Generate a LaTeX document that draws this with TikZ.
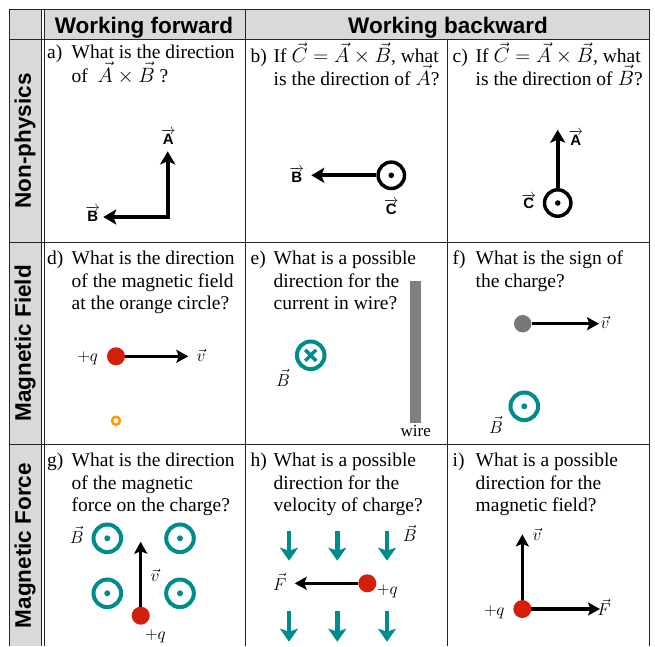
\documentclass[tikz,border=0pt]{standalone}
\usepackage{fontspec}
\setmainfont{Liberation Serif}
\setsansfont{Liberation Sans}
\usetikzlibrary{arrows.meta}
\definecolor{tealc}{RGB}{0,140,140}
\definecolor{redc}{RGB}{210,30,10}
\definecolor{hdrgray}{RGB}{217,217,217}
\definecolor{orangec}{RGB}{255,153,0}
\definecolor{wiregray}{RGB}{128,128,128}
\definecolor{dotgray}{RGB}{120,120,120}
\tikzset{
 qtext/.style={anchor=base west, inner sep=0pt, font=\fontsize{19.5}{22.8}\selectfont},
 hdr/.style={font=\sffamily\bfseries\fontsize{22.5}{26}\selectfont, inner sep=0pt},
 blab/.style={anchor=base, inner sep=0pt, font=\fontsize{15}{17}\selectfont},
 plab/.style={anchor=base, inner sep=0pt, font=\fontsize{17}{20}\selectfont},
 gridline/.style={line width=0.9pt, draw=black!85},
 bigarr/.style={line width=3.8pt, -{Stealth[length=13pt,width=15pt,inset=3pt]}},
 arr/.style={line width=3.5pt, -{Stealth[length=12pt,width=13pt,inset=2.5pt]}},
 tarr/.style={line width=4.5pt, draw=tealc, -{Stealth[length=13pt,width=18pt,inset=3pt]}},
 odot/.style={circle, draw, line width=3.5pt, minimum size=26.4pt, inner sep=0pt},
 todot/.style={circle, draw=tealc, line width=4pt, minimum size=27.6pt, inner sep=0pt},
 charge/.style={circle, fill=redc, minimum size=18pt, inner sep=0pt},
}
\newcommand\bvec[1]{$\overrightarrow{\mbox{\sffamily\bfseries #1}}$}
\begin{document}
\begin{tikzpicture}[x=1pt,y=-1pt]
\useasboundingbox (0,0) rectangle (655,646);
% backgrounds
\fill[hdrgray] (9,9) rectangle (41,646);
\fill[hdrgray] (44,9) rectangle (649,39.5);
% grid
\draw[gridline] (9,9) -- (649,9);
\draw[gridline] (9,39.5) -- (649,39.5);
\draw[gridline] (9,242) -- (649,242);
\draw[gridline] (9,444.5) -- (649,444.5);
\draw[gridline] (9,9) -- (9,646);
\draw[gridline] (41,9) -- (41,646);
\draw[gridline] (44,9) -- (44,646);
\draw[gridline] (245,9) -- (245,646);
\draw[gridline] (447,39.5) -- (447,646);
\draw[gridline] (649,9) -- (649,646);
% headers
\node[hdr, anchor=base] (h1) at (144,33) {Working forward};
\node[hdr, anchor=base] (h2) at (448,33) {Working backward};
\node[hdr, rotate=90] (r1) at (25,140.75) {Non-physics};
\node[hdr, rotate=90] (r2) at (25,343.25) {Magnetic Field};
\node[hdr, rotate=90] (r3) at (25,545.5) {Magnetic Force};
% row 1 texts
\node[qtext] (la) at (47,58.7) {a)};
\node[qtext] (a1) at (71.5,58.7) {What is the direction};
\node[qtext] (a2) at (71.5,82) {of \ $\vec{A}\times\vec{B}$ ?};
\node[qtext] (lb) at (250.5,62.5) {b)};
\node[qtext] (b1) at (273.5,62.5) {If $\vec{C}=\vec{A}\times\vec{B}$, what};
\node[qtext] (b2) at (273.5,85) {is the direction of $\vec{A}$?};
\node[qtext] (lc) at (452.5,62.5) {c)};
\node[qtext] (c1) at (475.5,62.5) {If $\vec{C}=\vec{A}\times\vec{B}$, what};
\node[qtext] (c2) at (475.5,85) {is the direction of $\vec{B}$?};
% row 2 texts
\node[qtext] (ld) at (47,264.7) {d)};
\node[qtext] (d1) at (71.5,264.7) {What is the direction};
\node[qtext] (d2) at (71.5,287.3) {of the magnetic field};
\node[qtext] (d3) at (71.5,309.7) {at the orange circle?};
\node[qtext] (le) at (250.5,264.7) {e)};
\node[qtext] (e1) at (273.5,264.7) {What is a possible};
\node[qtext] (e2) at (273.5,287.3) {direction for the};
\node[qtext] (e3) at (273.5,309.7) {current in wire?};
\node[qtext] (lf) at (452.5,264.7) {f)};
\node[qtext] (f1) at (475.5,264.7) {What is the sign of};
\node[qtext] (f2) at (475.5,287.3) {the charge?};
% row 3 texts
\node[qtext] (lg) at (47,466.7) {g)};
\node[qtext] (g1) at (71.5,466.7) {What is the direction};
\node[qtext] (g2) at (71.5,489.2) {of the magnetic};
\node[qtext] (g3) at (71.5,511.7) {force on the charge?};
\node[qtext] (lh) at (250.5,466.7) {h)};
\node[qtext] (h1t) at (273.5,466.7) {What is a possible};
\node[qtext] (h2t) at (273.5,489.2) {direction for the};
\node[qtext] (h3t) at (273.5,511.7) {velocity of charge?};
\node[qtext] (li) at (452.5,466.7) {i)};
\node[qtext] (i1) at (475.5,466.7) {What is a possible};
\node[qtext] (i2) at (475.5,489.2) {direction for the};
\node[qtext] (i3) at (475.5,511.7) {magnetic field?};
% cell a
\coordinate (acorner) at (167.7,217);
\coordinate (atipA) at (167.7,151.3);
\coordinate (atipB) at (103.3,217);
\draw[line width=3.8pt, {Stealth[length=13pt,width=15pt,inset=3pt]}-{Stealth[length=13pt,width=15pt,inset=3pt]}] (atipB) -- (acorner) -- (atipA);
\node[blab] (aA) at (168.3,144) {\bvec{A}};
\node[blab] (aB) at (92.7,221.3) {\bvec{B}};
% cell b
\node[odot] (bC) at (391.3,175.3) {};
\fill (bC.center) circle[radius=2.8pt];
\coordinate (btip) at (311.3,175.3);
\draw[bigarr] (bC) -- (btip);
\node[blab] (bB) at (296.7,182) {\bvec{B}};
\node[blab] (bCl) at (391.3,214) {\bvec{C}};
% cell c
\node[odot] (cC) at (557.7,203) {};
\fill (cC.center) circle[radius=2.8pt];
\coordinate (ctip) at (557.7,129.7);
\draw[bigarr] (cC) -- (ctip);
\node[blab] (cA) at (575.8,145.3) {\bvec{A}};
\node[blab] (cCl) at (528.7,208.7) {\bvec{C}};
% cell d
\node[charge] (dq) at (116,356.3) {};
\coordinate (dtip) at (188.3,356.3);
\draw[arr] (dq) -- (dtip);
\node[plab] (dql) at (87.8,361) {$+q$};
\node[plab] (dv) at (201,361) {$\vec{v}$};
\node[circle, draw=orangec, line width=2.5pt, minimum size=8pt, inner sep=0pt] (dring) at (116,420.7) {};
% cell e
\node[todot] (eB) at (310.7,355.3) {};
\draw[tealc, line width=3.5pt] (eB.center) +(-5.5,-5.5) -- +(5.5,5.5) +(-5.5,5.5) -- +(5.5,-5.5);
\node[plab] (eBl) at (283,386) {$\vec{B}$};
\node[fill=wiregray, minimum width=11.6pt, minimum height=142.3pt, inner sep=0pt] (wire) at (415.5,351.85) {};
\node[anchor=base, inner sep=0pt, font=\fontsize{17}{20}\selectfont] (wirel) at (415.7,436.3) {wire};
% cell f
\node[circle, fill=dotgray, minimum size=17.4pt, inner sep=0pt] (fq) at (522.7,323.7) {};
\coordinate (ftip) at (599,323.7);
\draw[arr] (fq) -- (ftip);
\node[plab] (fv) at (605,328.7) {$\vec{v}$};
\node[todot] (fB) at (524.3,406.3) {};
\fill[tealc] (fB.center) circle[radius=3pt];
\node[plab] (fBl) at (496,433) {$\vec{B}$};
% cell g
\node[todot] (gB1) at (107.3,538.3) {};
\node[todot] (gB2) at (180,538.3) {};
\node[todot] (gB3) at (107.3,593.3) {};
\node[todot] (gB4) at (180,593.3) {};
\foreach \n in {gB1,gB2,gB3,gB4} {\fill[tealc] (\n.center) circle[radius=3pt];}
\node[charge] (gq) at (140.7,615.7) {};
\coordinate (gtip) at (140.7,541.7);
\draw[arr] (gq) -- (gtip);
\node[plab] (gv) at (155,581.7) {$\vec{v}$};
\node[plab] (gql) at (155.5,639.3) {$+q$};
\node[plab] (gBl) at (76.7,543.3) {$\vec{B}$};
% cell h
\foreach \x [count=\k] in {289,337.3,387} {
  \coordinate (ht\k) at (\x,530.7);
  \coordinate (hh\k) at (\x,560.7);
  \coordinate (hb\k) at (\x,610.7);
  \coordinate (hbh\k) at (\x,641.7);
  \draw[tarr] (ht\k) -- (hh\k);
  \draw[tarr] (hb\k) -- (hbh\k);
}
\node[charge] (hq) at (367.3,583.3) {};
\coordinate (htip) at (294.7,583.3);
\draw[arr] (hq) -- (htip);
\node[plab] (hF) at (279.7,590) {$\vec{F}$};
\node[plab] (hql) at (387.5,594) {$+q$};
\node[plab] (hBl) at (409.7,541.7) {$\vec{B}$};
% cell i
\coordinate (icorner) at (522.3,609);
\coordinate (itipv) at (522.3,534.3);
\coordinate (itipF) at (600,609);
\draw[arr] (icorner) -- (itipv);
\draw[arr] (icorner) -- (itipF);
\node[charge] (iq) at (icorner) {};
\node[plab] (iv) at (537,540) {$\vec{v}$};
\node[plab] (iF) at (604,615.7) {$\vec{F}$};
\node[plab] (iql) at (494.3,615.7) {$+q$};
\end{tikzpicture}
\end{document}
